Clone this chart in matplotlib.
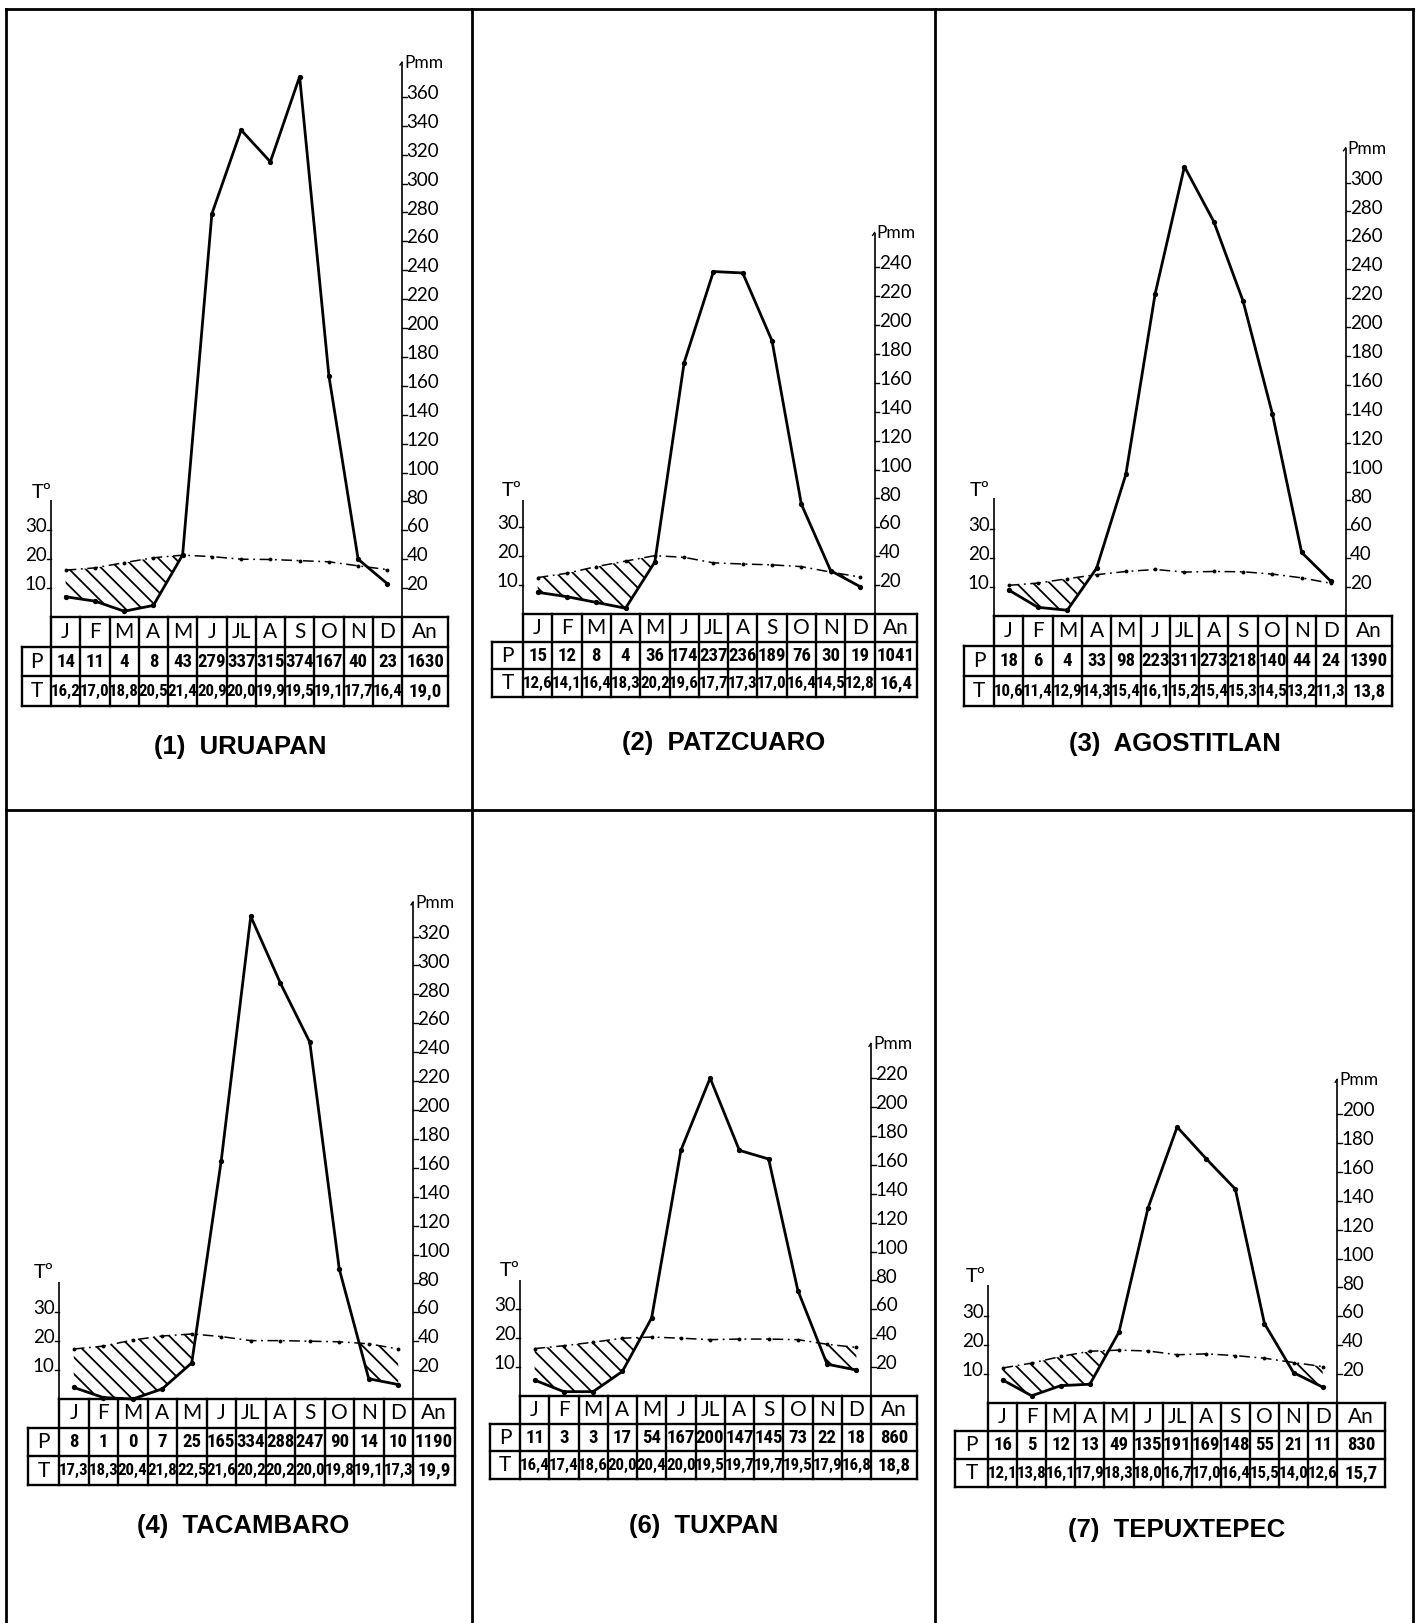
import matplotlib
matplotlib.use("Agg")
import matplotlib.pyplot as plt
import numpy as np
from matplotlib import font_manager as fm
from matplotlib.lines import Line2D

# ---------------- data ----------------
months = ["J", "F", "M", "A", "M", "J", "JL", "A", "S", "O", "N", "D"]
stations = ["(1)  URUAPAN", "(2)  PATZCUARO", "(3)  AGOSTITLAN",
            "(4)  TACAMBARO", "(6)  TUXPAN", "(7)  TEPUXTEPEC"]

p_uruapan = [14, 11, 4, 8, 43, 279, 337, 315, 374, 167, 40, 23]
t_uruapan = [16.2, 17.0, 18.8, 20.5, 21.4, 20.9, 20.0, 19.9, 19.5, 19.1, 17.7, 16.4]
an_uruapan = (1630, 19.0)

p_patzcuaro = [15, 12, 8, 4, 36, 174, 237, 236, 189, 76, 30, 19]
t_patzcuaro = [12.6, 14.1, 16.4, 18.3, 20.2, 19.6, 17.7, 17.3, 17.0, 16.4, 14.5, 12.8]
an_patzcuaro = (1041, 16.4)

p_agostitlan = [18, 6, 4, 33, 98, 223, 311, 273, 218, 140, 44, 24]
t_agostitlan = [10.6, 11.4, 12.9, 14.3, 15.4, 16.1, 15.2, 15.4, 15.3, 14.5, 13.2, 11.3]
an_agostitlan = (1390, 13.8)

p_tacambaro = [8, 1, 0, 7, 25, 165, 334, 288, 247, 90, 14, 10]
t_tacambaro = [17.3, 18.3, 20.4, 21.8, 22.5, 21.6, 20.2, 20.2, 20.0, 19.8, 19.1, 17.3]
an_tacambaro = (1190, 19.9)

p_tuxpan = [11, 3, 3, 17, 54, 167, 200, 147, 145, 73, 22, 18]
t_tuxpan = [16.4, 17.4, 18.6, 20.0, 20.4, 20.0, 19.5, 19.7, 19.7, 19.5, 17.9, 16.8]
an_tuxpan = (860, 18.8)
# the drawn Tuxpan rain curve differs from its table
p_tuxpan_curve = [11, 3, 3, 17, 54, 170, 220, 170, 164, 73, 22, 18]

p_tepuxtepec = [16, 5, 12, 13, 49, 135, 191, 169, 148, 55, 21, 11]
t_tepuxtepec = [12.1, 13.8, 16.1, 17.9, 18.3, 18.0, 16.7, 17.0, 16.4, 15.5, 14.0, 12.6]
an_tepuxtepec = (830, 15.7)

p_tables = [p_uruapan, p_patzcuaro, p_agostitlan, p_tacambaro, p_tuxpan, p_tepuxtepec]
p_curves = [p_uruapan, p_patzcuaro, p_agostitlan, p_tacambaro, p_tuxpan_curve, p_tepuxtepec]
t_tables = [t_uruapan, t_patzcuaro, t_agostitlan, t_tacambaro, t_tuxpan, t_tepuxtepec]
annuals = [an_uruapan, an_patzcuaro, an_agostitlan, an_tacambaro, an_tuxpan, an_tepuxtepec]
p_axis_max = [360, 240, 300, 320, 220, 200]

# ---------------- fonts ----------------
names = {f.name for f in fm.fontManager.ttflist}


def pick(*cands):
    for n in cands:
        if n in names:
            return n
    return "DejaVu Sans"


F_AX = pick("Lato", "Open Sans", "DejaVu Sans")
F_NARROW = pick("Liberation Sans Narrow", "DejaVu Sans Condensed", "Roboto Condensed")
NARROW = F_NARROW != "DejaVu Sans"
F_TITLE = pick("Liberation Sans", "Roboto", "DejaVu Sans")

# ---------------- layout (pixels) ----------------
W, H = 1417, 1623
fig = plt.figure(figsize=(W / 100, H / 100), dpi=100)
fig.patch.set_facecolor("white")

S = 1.445  # px per mm
col_edges = [6, 472, 935, 1413]
row_edges = [9, 810, 1623]

layouts = [
    dict(x0=51, y0=617, w=29.25, rh=29.7, lab=22, anr=448, ttop=500, tlab=(42, 492), title=(240, 747)),
    dict(x0=523, y0=614, w=29.3, rh=27.7, lab=492, anr=917, ttop=500, tlab=(512, 490), title=(724, 743)),
    dict(x0=994, y0=616, w=29.3, rh=30.0, lab=964, anr=1392, ttop=498, tlab=(980, 490), title=(1175, 744)),
    dict(x0=59, y0=1399, w=29.5, rh=28.7, lab=28, anr=455, ttop=1282, tlab=(44, 1273), title=(243, 1526)),
    dict(x0=520, y0=1396, w=29.25, rh=27.7, lab=490, anr=917, ttop=1280, tlab=(510, 1270), title=(704, 1526)),
    dict(x0=988, y0=1403, w=29.1, rh=28.0, lab=955, anr=1385, ttop=1285, tlab=(976, 1277), title=(1177, 1530)),
]

plt.rcParams["hatch.linewidth"] = 1.3
K = "black"


def fmt_t(v):
    return f"{v:.1f}".replace(".", ",")


for k in range(6):
    L = layouts[k]
    r, c = divmod(k, 3)
    bx0, bx1 = col_edges[c], col_edges[c + 1]
    by0, by1 = row_edges[r], row_edges[r + 1]
    ax = fig.add_axes([bx0 / W, 1 - by1 / H, (bx1 - bx0) / W, (by1 - by0) / H])
    ax.axis("off")
    x0, y0, w = L["x0"], L["y0"], L["w"]

    def dx(px):
        return (px - x0) / w

    def dy(py):
        return (y0 - py) / S

    ax.set_xlim(dx(bx0), dx(bx1))
    ax.set_ylim(dy(by1), dy(by0))

    rh = L["rh"] / S
    lab = dx(L["lab"])
    anr = dx(L["anr"])
    pmax = p_axis_max[k]
    tick_x = 4.5 / w

    # ---- axes lines ----
    ax.plot([0, 0], [0, dy(L["ttop"])], color=K, lw=1.2, solid_capstyle="butt")
    ax.plot([12, 12], [0, pmax + 24], color=K, lw=1.2, solid_capstyle="butt")
    ax.plot([12, 12 - 2 / w], [pmax + 24, pmax + 22], color=K, lw=1.0)
    for v in range(20, pmax + 1, 20):
        ax.plot([12, 12 + tick_x], [v, v], color=K, lw=1.0)
        ax.text(12 + tick_x, v - 1.5, str(v), ha="left", va="baseline",
                fontsize=13.5, family=F_AX, color=K)
    ax.text(12 + 2 / w, pmax + 20, "Pmm", ha="left", va="baseline",
            fontsize=12.5, family=F_AX, color=K)
    for t in (10, 20, 30):
        ax.plot([-tick_x, 0], [2 * t, 2 * t], color=K, lw=1.0)
        ax.text(-tick_x, 2 * t - 1.5, str(t), ha="right", va="baseline",
                fontsize=13.5, family=F_AX, color=K)
    tx, ty = L["tlab"]
    ax.text(dx(tx), dy(ty), "Tº", ha="center", va="center",
            fontsize=14.5, family=F_AX, color=K)

    # ---- curves ----
    xc = np.arange(12) + 0.5
    pc = np.array(p_curves[k], dtype=float)
    t2 = 2 * np.array(t_tables[k], dtype=float)
    ax.fill_between(xc, pc, t2, where=pc < t2, interpolate=True,
                    facecolor="none", edgecolor=K, hatch="\\\\", linewidth=0)
    ax.plot(xc, t2, color=K, lw=1.1, linestyle=(0, (7, 3, 1.2, 3)),
            marker="o", ms=2.8, markeredgewidth=0)
    ax.plot(xc, pc, color=K, lw=2.0, marker="o", ms=3.8, markeredgewidth=0,
            solid_joinstyle="round")

    # ---- table ----
    tw = dict(color=K, lw=1.7, solid_capstyle="projecting")
    ax.plot([0, anr], [0, 0], **tw)
    for j in (1, 2, 3):
        ax.plot([lab, anr], [-j * rh, -j * rh], **tw)
    ax.plot([lab, lab], [-rh, -3 * rh], **tw)
    for i in range(13):
        ax.plot([i, i], [0, -3 * rh], **tw)
    ax.plot([anr, anr], [0, -3 * rh], **tw)

    for i, m in enumerate(months):
        ax.text(i + 0.5, -0.5 * rh, m, ha="center", va="center",
                fontsize=15, family=F_AX, color=K)
    ax.text((12 + anr) / 2, -0.5 * rh, "An", ha="center", va="center",
            fontsize=15, family=F_AX, color=K)
    ax.text((lab + 0) / 2, -1.5 * rh, "P", ha="center", va="center",
            fontsize=15, family=F_AX, color=K)
    ax.text((lab + 0) / 2, -2.5 * rh, "T", ha="center", va="center",
            fontsize=15, family=F_AX, color=K)

    p_fs = 13.5 if NARROW else 10
    t_fs = 12.2 if NARROW else 7.8
    for i in range(12):
        ax.text(i + 0.5, -1.5 * rh, str(p_tables[k][i]), ha="center", va="center",
                fontsize=p_fs, family=F_NARROW, weight="bold", color=K)
        ax.text(i + 0.5, -2.5 * rh, fmt_t(t_tables[k][i]), ha="center", va="center",
                fontsize=t_fs, family=F_NARROW, weight="bold", color=K)
    pa, ta = annuals[k]
    ax.text((12 + anr) / 2, -1.5 * rh, str(pa), ha="center", va="center",
            fontsize=p_fs, family=F_NARROW, weight="bold", color=K)
    ax.text((12 + anr) / 2, -2.5 * rh, fmt_t(ta), ha="center", va="center",
            fontsize=p_fs, family=F_NARROW, weight="bold", color=K)

    # ---- title ----
    ttx, tty = L["title"]
    ax.text(dx(ttx), dy(tty), stations[k], ha="center", va="center",
            fontsize=18.5, family=F_TITLE, weight="bold", color=K)

# ---------------- frame ----------------
fl = dict(color=K, lw=2.0, transform=fig.transFigure)
fig.add_artist(Line2D([col_edges[0] / W, col_edges[3] / W], [1 - row_edges[0] / H] * 2, **fl))
fig.add_artist(Line2D([col_edges[0] / W, col_edges[3] / W], [1 - row_edges[1] / H] * 2, **fl))
for xe in col_edges:
    fig.add_artist(Line2D([xe / W] * 2, [1 - row_edges[0] / H, 0], **fl))

fig.savefig("out.png", dpi=100, facecolor="white")
